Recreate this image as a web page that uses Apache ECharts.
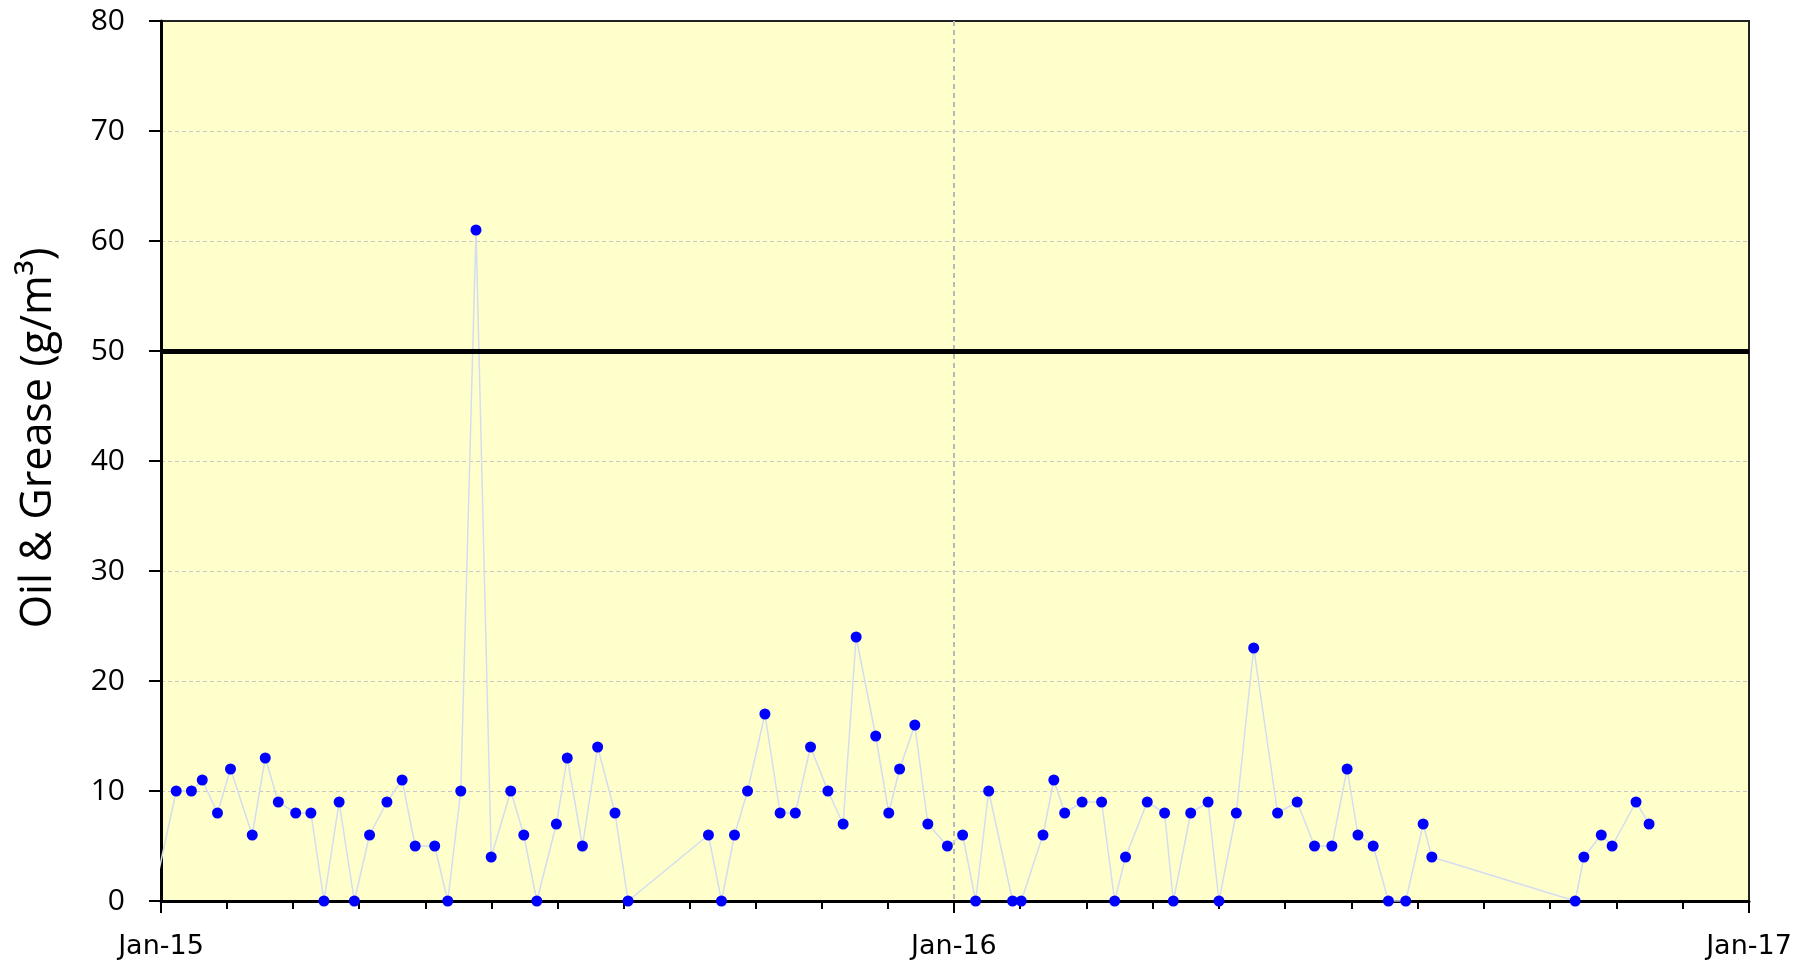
<!DOCTYPE html>
<html>
<head>
<meta charset="utf-8">
<title>Oil & Grease</title>
<script src="https://cdn.jsdelivr.net/npm/echarts@6/dist/echarts.min.js"></script>
<style>
    html, body { margin: 0; padding: 0; background: #ffffff; }
    #chart { width: 1804px; height: 968px; }
</style>
</head>
<body>
<div id="chart"></div>
<script>
// sample dates (first one sits just before the axis start, the line runs in from it)
const sampleDates = [
    '2014-12-28',
    '2015-01-08', '2015-01-15', '2015-01-20', '2015-01-27', '2015-02-02', '2015-02-12',
    '2015-02-18', '2015-02-24', '2015-03-04', '2015-03-11', '2015-03-17', '2015-03-24',
    '2015-03-31', '2015-04-07', '2015-04-15', '2015-04-22', '2015-04-28', '2015-05-07',
    '2015-05-13', '2015-05-19', '2015-05-26', '2015-06-02', '2015-06-11', '2015-06-17',
    '2015-06-23', '2015-07-02', '2015-07-07', '2015-07-14', '2015-07-21', '2015-07-29',
    '2015-08-04', '2015-09-10', '2015-09-16', '2015-09-22', '2015-09-28', '2015-10-06',
    '2015-10-13', '2015-10-20', '2015-10-27', '2015-11-04', '2015-11-11', '2015-11-17',
    '2015-11-26', '2015-12-02', '2015-12-07', '2015-12-14', '2015-12-20', '2015-12-29',
    '2016-01-05', '2016-01-11', '2016-01-17', '2016-01-28', '2016-02-01', '2016-02-11',
    '2016-02-16', '2016-02-21', '2016-02-29', '2016-03-09', '2016-03-15', '2016-03-20',
    '2016-03-30', '2016-04-07', '2016-04-11', '2016-04-19', '2016-04-27', '2016-05-02',
    '2016-05-10', '2016-05-18', '2016-05-29', '2016-06-07', '2016-06-15', '2016-06-23',
    '2016-06-30', '2016-07-05', '2016-07-12', '2016-07-19', '2016-07-27', '2016-08-04',
    '2016-08-08', '2016-10-13', '2016-10-17', '2016-10-25', '2016-10-30', '2016-11-10',
    '2016-11-16'
];

// oil & grease, g/m3
const oilGrease = [
    0,
    10, 10, 11, 8, 12, 6,
    13, 9, 8, 8, 0, 9,
    0, 6, 9, 11, 5, 5,
    0, 10, 61, 4, 10, 6,
    0, 7, 13, 5, 14, 8,
    0, 6, 0, 6, 10, 17,
    8, 8, 14, 10, 7, 24,
    15, 8, 12, 16, 7, 5,
    6, 0, 10, 0, 0, 6,
    11, 8, 9, 9, 0, 4,
    9, 8, 0, 8, 9, 0,
    8, 23, 8, 9, 5, 5,
    12, 6, 5, 0, 0, 7,
    4, 0, 4, 6, 5, 9,
    7
];

// consent limit
const limitValue = 50;

// axis ranges
const xStart = '2015-01-01';
const xEnd = '2017-01-01';
const yTicks = [0, 10, 20, 30, 40, 50, 60, 70, 80];

const DAY = 24 * 3600 * 1000;

let myChart = echarts.init(document.getElementById('chart'));

let option = {
    animation: false,
    backgroundColor: '#ffffff',
    grid: {
        left: 161,
        right: 55,
        top: 21,
        bottom: 67,
        show: true,
        backgroundColor: '#FFFFCC',
        borderColor: '#222222',
        borderWidth: 2
    },
    xAxis: {
        type: 'time',
        min: xStart,
        max: xEnd,
        minInterval: 365 * DAY,
        maxInterval: 366 * DAY,
        axisLine: { show: true, onZero: false, lineStyle: { color: '#000', width: 3 } },
        axisTick: { show: true, length: 12, lineStyle: { color: '#000', width: 2 } },
        minorTick: { show: true, splitNumber: 12, length: 8, lineStyle: { color: '#000', width: 2 } },
        splitLine: {
            show: true,
            showMinLine: false,
            showMaxLine: false,
            lineStyle: { color: '#b8b8b8', width: 2, type: [5, 4] }
        },
        axisLabel: {
            margin: 32,
            showMinLabel: true,
            showMaxLabel: true,
            fontFamily: 'DejaVu Sans',
            fontSize: 27,
            color: '#000',
            formatter: (value) => {
                const d = new Date(value);
                return 'Jan-' + String(d.getFullYear()).slice(2);
            }
        }
    },
    yAxis: {
        type: 'value',
        min: yTicks[0],
        max: yTicks[yTicks.length - 1],
        interval: 10,
        name: 'Oil & Grease (g/m³)',
        nameLocation: 'middle',
        nameGap: 101,
        nameTextStyle: {
            fontFamily: 'Open Sans',
            fontSize: 43,
            color: '#000',
            padding: [0, 0, 0, 46]
        },
        axisLine: { show: true, lineStyle: { color: '#000', width: 3 } },
        axisTick: { show: true, length: 12, lineStyle: { color: '#000', width: 2 } },
        splitLine: {
            show: true,
            showMinLine: false,
            showMaxLine: false,
            lineStyle: { color: '#c8c8c8', width: 1, type: [4, 3] }
        },
        axisLabel: {
            margin: 36,
            fontFamily: 'Open Sans',
            fontSize: 30,
            color: '#000'
        }
    },
    series: [{
        type: 'line',
        data: sampleDates.map((d, i) => [d, oilGrease[i]]),
        clip: true,
        symbol: 'circle',
        symbolSize: 11,
        showAllSymbol: true,
        itemStyle: { color: '#0000FF', borderWidth: 0 },
        lineStyle: { color: '#d3ddef', width: 1.5 },
        z: 3,
        markLine: {
            silent: true,
            symbol: 'none',
            label: { show: false },
            lineStyle: { color: '#000', width: 5, type: 'solid' },
            data: [{ yAxis: limitValue }]
        }
    }]
};

myChart.setOption(option);
</script>
</body>
</html>
